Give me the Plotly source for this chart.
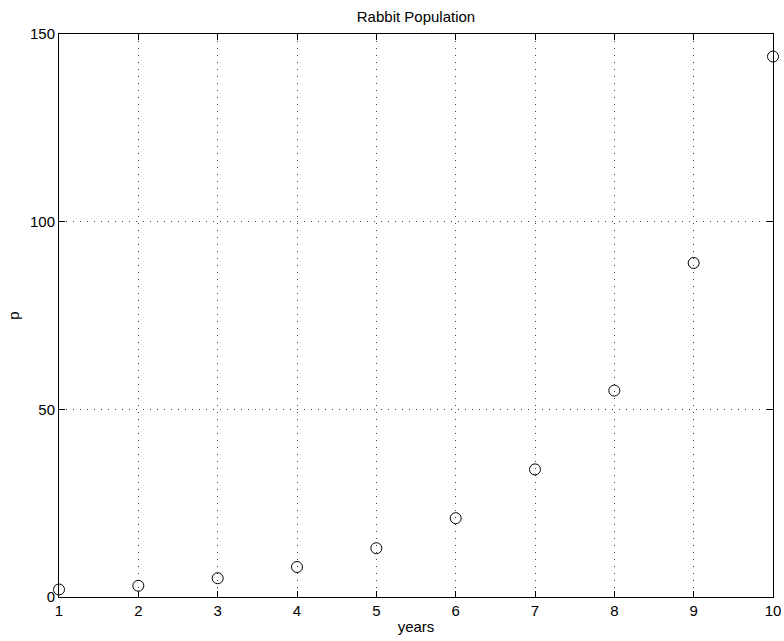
import plotly.graph_objects as go

years = [1, 2, 3, 4, 5, 6, 7, 8, 9, 10]
population = [2, 3, 5, 8, 13, 21, 34, 55, 89, 144]
x_ticks = [1, 2, 3, 4, 5, 6, 7, 8, 9, 10]
y_ticks = [0, 50, 100, 150]

FONT = "Liberation Sans, Arial, Helvetica, sans-serif"
FS = 15

fig = go.Figure()
fig.add_trace(go.Scatter(
    x=years, y=population, mode="markers",
    marker=dict(symbol="circle-open", size=11, color="black", line=dict(width=1)),
    cliponaxis=False, showlegend=False, hoverinfo="skip",
))

axis_common = dict(
    showgrid=True, gridcolor="rgba(0,0,0,0.75)", griddash="1px,6px", gridwidth=1,
    zeroline=False, showline=True, linecolor="black", linewidth=1, mirror="ticks",
    ticks="inside", ticklen=6, tickcolor="black", automargin=False,
    tickfont=dict(family=FONT, size=FS, color="black"),
)

W, H = 784, 641
fig.update_layout(
    width=W, height=H,
    paper_bgcolor="white", plot_bgcolor="white",
    margin=dict(l=59, r=11, t=34, b=44),
    title=dict(text="Rabbit Population", x=0.5, xanchor="center", xref="paper",
               y=1 - 17 / H, yanchor="middle",
               font=dict(family=FONT, size=FS, color="black")),
    xaxis=dict(range=[1, 10], tickvals=x_ticks, ticktext=[str(v) for v in x_ticks],
               title=dict(text="years", standoff=3,
                          font=dict(family=FONT, size=FS, color="black")),
               **axis_common),
    yaxis=dict(range=[0, 150], tickvals=y_ticks, ticktext=[str(v) for v in y_ticks],
               title=dict(text="p", standoff=6,
                          font=dict(family=FONT, size=FS, color="black")),
               **axis_common),
)

fig.write_html(
    "out.html",
    config={"displayModeBar": False},
    post_script="document.body.style.margin='0';document.body.style.overflow='hidden';",
)
